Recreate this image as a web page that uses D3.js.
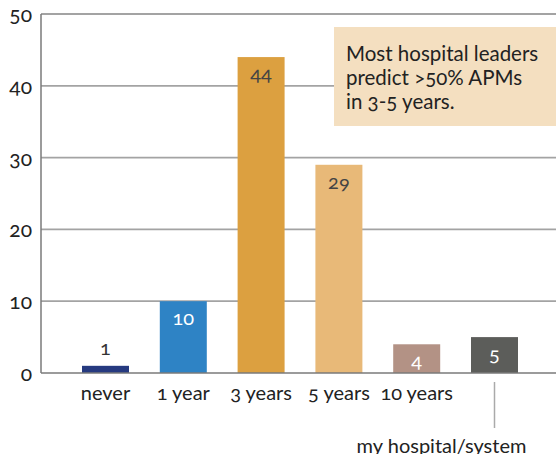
<!DOCTYPE html>
<html>
<head>
<meta charset="utf-8">
<script src="https://cdn.jsdelivr.net/npm/d3@7"></script>
<style>
  body { margin: 0; background: #fff; }
  svg text { font-family: Lato, "Open Sans", sans-serif; font-variant-numeric: oldstyle-nums; }
</style>
</head>
<body>
<script>
const width = 556;
const height = 454;

// data
const categories = ['never', '1 year', '3 years', '5 years', '10 years', 'my hospital/system'];
const values = [1, 10, 44, 29, 4, 5];
const barColors = ['#263a80', '#2e83c5', '#dca040', '#e8b978', '#b39285', '#5c5d5a'];
const labelColors = ['#333', '#fff', '#444', '#444', '#fff', '#fff'];
const yTicks = [0, 10, 20, 30, 40, 50];
const noteLines = ['Most hospital leaders', 'predict >50% APMs', 'in 3-5 years.'];

const svg = d3.select('body')
    .append('svg')
    .attr('width', width)
    .attr('height', height);

const x = d3.scaleBand()
    .domain(categories)
    .range([41, 559])
    .paddingInner(0.396)
    .paddingOuter(0.527);

const y = d3.scaleLinear()
    .domain([0, 50])
    .range([373, 14]);

// gridlines
svg.append('g')
    .selectAll('line')
    .data(yTicks.filter(d => d > 0))
    .enter()
    .append('line')
        .attr('x1', 41)
        .attr('x2', width)
        .attr('y1', d => y(d))
        .attr('y2', d => y(d))
        .attr('stroke', '#a3a3a3')
        .attr('stroke-width', 1.8);

// tick labels
svg.append('g')
    .selectAll('text')
    .data(yTicks)
    .enter()
    .append('text')
        .attr('x', 32)
        .attr('y', d => y(d) + 8)
        .attr('text-anchor', 'end')
        .attr('font-size', 21)
        .attr('fill', '#222')
        .text(d => d);

// note box
const note = svg.append('g');
note.append('rect')
    .attr('x', 334)
    .attr('y', 27)
    .attr('width', width - 334)
    .attr('height', 99)
    .attr('fill', '#f4dfc0');
note.selectAll('text')
    .data(noteLines)
    .enter()
    .append('text')
        .attr('x', 346)
        .attr('y', (d, i) => 61 + i * 24)
        .attr('font-size', 20.5)
        .attr('fill', '#222')
        .text(d => d);

// bars
svg.append('g')
    .selectAll('rect')
    .data(values)
    .enter()
    .append('rect')
        .attr('x', (d, i) => x(categories[i]))
        .attr('y', d => y(d))
        .attr('width', x.bandwidth())
        .attr('height', d => y(0) - y(d))
        .attr('fill', (d, i) => barColors[i]);

// value labels
svg.append('g')
    .selectAll('text')
    .data(values)
    .enter()
    .append('text')
        .attr('x', (d, i) => x(categories[i]) + x.bandwidth() / 2)
        .attr('y', d => d < 2 ? y(d) - 11 : y(d) + 24)
        .attr('text-anchor', 'middle')
        .attr('font-size', 20)
        .attr('fill', (d, i) => labelColors[i])
        .text(d => d);

// axes lines
svg.append('line')
    .attr('x1', 41).attr('x2', 41)
    .attr('y1', 14).attr('y2', 373)
    .attr('stroke', '#7a7a7a')
    .attr('stroke-width', 1.5);
svg.append('line')
    .attr('x1', 41).attr('x2', width)
    .attr('y1', 373).attr('y2', 373)
    .attr('stroke', '#7a7a7a')
    .attr('stroke-width', 1.5);

// category labels
const last = categories[categories.length - 1];
svg.append('g')
    .selectAll('text')
    .data(categories.slice(0, -1))
    .enter()
    .append('text')
        .attr('x', d => x(d) + x.bandwidth() / 2)
        .attr('y', 400)
        .attr('text-anchor', 'middle')
        .attr('font-size', 20)
        .attr('fill', '#222')
        .text(d => d);

const lastX = x(last) + x.bandwidth() / 2;
svg.append('line')
    .attr('x1', lastX).attr('x2', lastX)
    .attr('y1', 382).attr('y2', 428)
    .attr('stroke', '#aaa')
    .attr('stroke-width', 1.5);
svg.append('text')
    .attr('x', lastX - 53)
    .attr('y', 453)
    .attr('text-anchor', 'middle')
    .attr('font-size', 20)
    .attr('fill', '#222')
    .text(last);
</script>
</body>
</html>
